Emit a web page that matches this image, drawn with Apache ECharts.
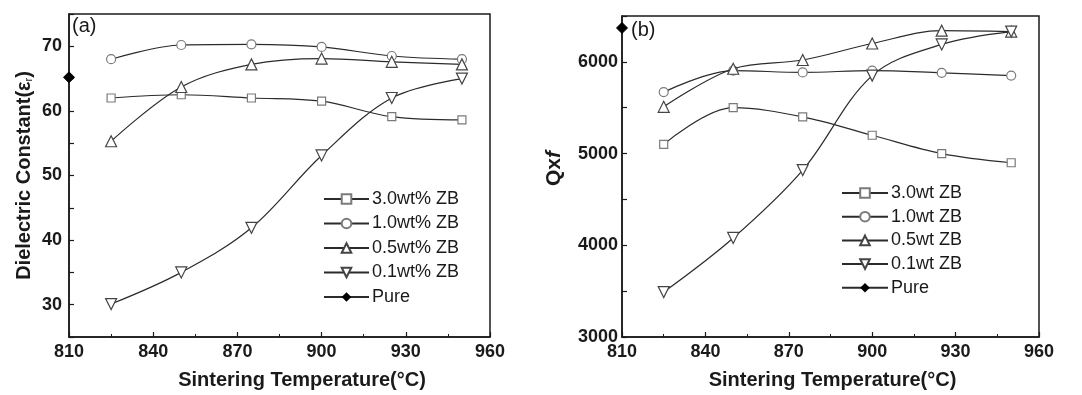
<!DOCTYPE html>
<html>
<head>
<meta charset="utf-8">
<script src="https://cdn.jsdelivr.net/npm/echarts@6/dist/echarts.min.js"></script>
<style>
  html, body { margin: 0; padding: 0; background: #fff; }
  #chart-container { width: 1082px; height: 395px; }
</style>
</head>
<body>
<div id="chart-container"></div>
<script>
var dom = document.getElementById("chart-container");
var myChart = echarts.init(dom, null, { renderer: "canvas" });

// sintering temperatures (°C)
const temps = [825, 850, 875, 900, 925, 950];

// (a) dielectric constant
const epsNames = ["3.0wt% ZB", "1.0wt% ZB", "0.5wt% ZB", "0.1wt% ZB", "Pure"];
const eps30 = [62.0, 62.5, 62.0, 61.5, 59.1, 58.6];
const eps10 = [68.0, 70.2, 70.3, 69.9, 68.5, 68.0];
const eps05 = [55.3, 63.7, 67.2, 68.1, 67.6, 67.2];
const eps01 = [30.1, 35.0, 41.9, 53.1, 62.0, 65.0];
const epsPure = [[810, 65.2]];

// (b) Qxf
const qfNames = ["3.0wt ZB", "1.0wt ZB", "0.5wt ZB", "0.1wt ZB", "Pure"];
const qf30 = [5100, 5500, 5400, 5200, 5000, 4900];
const qf10 = [5670, 5905, 5885, 5905, 5880, 5850];
const qf05 = [5510, 5925, 6020, 6200, 6340, 6330];
const qf01 = [3490, 4080, 4820, 5850, 6190, 6330];
const qfPure = [[810, 6370]];

const FONT = "Liberation Sans";
const LINE = "#2b2b2b";
const EDGE = "#7a7a7a";

const markerStyles = [
  { symbol: "rect", symbolSize: 8, symbolRotate: 0 },
  { symbol: "circle", symbolSize: 9, symbolRotate: 0 },
  { symbol: "triangle", symbolSize: 11, symbolRotate: 0 },
  { symbol: "triangle", symbolSize: 11, symbolRotate: 180 },
];

function pair(vals) {
  return vals.map(function (v, i) {
    return [temps[i], v];
  });
}

function makeSeries(names, sets, pure, gridIdx) {
  const out = sets.map(function (vals, i) {
    const m = markerStyles[i];
    return {
      name: names[i],
      type: "line",
      xAxisIndex: gridIdx,
      yAxisIndex: gridIdx,
      data: pair(vals),
      smooth: 0.35,
      symbol: m.symbol,
      symbolSize: m.symbolSize,
      symbolRotate: m.symbolRotate,
      showAllSymbol: true,
      clip: false,
      z: 3 + i,
      lineStyle: { color: LINE, width: 1.2 },
      itemStyle: {
        color: "#ffffff",
        borderColor: i >= 2 ? "#444" : EDGE,
        borderWidth: 1.2,
      },
      emphasis: { disabled: true },
    };
  });
  out.push({
    name: names[4],
    type: "line",
    xAxisIndex: gridIdx,
    yAxisIndex: gridIdx,
    data: pure,
    symbol: "diamond",
    symbolSize: 11,
    clip: false,
    z: 10,
    lineStyle: { color: LINE, width: 1.2 },
    itemStyle: { color: "#000", borderColor: "#000" },
    emphasis: { disabled: true },
  });
  return out;
}

function xAxisFor(gridIdx, shift) {
  return {
    type: "value",
    gridIndex: gridIdx,
    min: 810,
    max: 960,
    interval: 30,
    name: "Sintering Temperature(°C)",
    nameLocation: "middle",
    nameGap: 33,
    nameTextStyle: {
      fontFamily: FONT,
      fontSize: 20,
      fontWeight: "bold",
      color: "#1a1a1a",
      padding: [0, 0, 0, shift],
    },
    axisLine: { lineStyle: { color: "#1a1a1a", width: 1.5 } },
    axisTick: { inside: true, length: 5, lineStyle: { color: "#1a1a1a", width: 1.2 } },
    minorTick: { show: true, splitNumber: 2, length: 3, lineStyle: { color: "#1a1a1a" } },
    axisLabel: { fontFamily: FONT, fontSize: 18, fontWeight: "bold", color: "#1a1a1a", margin: 6 },
    splitLine: { show: false },
  };
}

function legendFor(names, left, top, gap, iconW) {
  return {
    data: names,
    orient: "vertical",
    left: left,
    top: top,
    itemWidth: iconW,
    itemHeight: 12,
    itemGap: gap,
    textStyle: {
      fontFamily: FONT,
      fontSize: 18,
      lineHeight: 18,
      color: "#1a1a1a",
      padding: [0, 0, 0, -2],
    },
  };
}

option = {
  backgroundColor: "#ffffff",
  animation: false,
  grid: [
    { left: 69, right: 592, top: 14, bottom: 57, show: true, borderColor: "#1a1a1a", borderWidth: 1.5 },
    { left: 622, right: 43, top: 16, bottom: 57, show: true, borderColor: "#1a1a1a", borderWidth: 1.5 },
  ],
  legend: [
    legendFor(epsNames, 318, 185, 6.5, 45),
    legendFor(qfNames, 836, 179, 5.7, 46),
  ],
  xAxis: [xAxisFor(0, 45), xAxisFor(1, 4)],
  yAxis: [
    {
      type: "value",
      gridIndex: 0,
      min: 25,
      max: 75,
      interval: 5,
      name: "{n|Dielectric Constant(ε}{s|r}{n|)}",
      nameLocation: "middle",
      nameGap: 35,
      nameTextStyle: {
        rich: {
          n: { fontFamily: FONT, fontSize: 20, fontWeight: "bold", color: "#1a1a1a" },
          s: { fontFamily: FONT, fontSize: 11, color: "#1a1a1a", verticalAlign: "bottom", padding: [9, 0, 0, 0] },
        },
      },
      axisLine: { lineStyle: { color: "#1a1a1a", width: 1.5 } },
      axisTick: { inside: true, length: 5, lineStyle: { color: "#1a1a1a", width: 1.2 } },
      axisLabel: {
        fontFamily: FONT,
        fontSize: 18,
        fontWeight: "bold",
        color: "#1a1a1a",
        margin: 7,
        formatter: function (v) {
          return v % 10 === 0 ? String(v) : "";
        },
      },
      splitLine: { show: false },
    },
    {
      type: "value",
      gridIndex: 1,
      min: 3000,
      max: 6500,
      interval: 500,
      name: "{n|Qx}{i|f}",
      nameLocation: "middle",
      nameGap: 57,
      nameTextStyle: {
        padding: [0, 0, 0, 16],
        rich: {
          n: { fontFamily: FONT, fontSize: 21, fontWeight: "bold", color: "#1a1a1a" },
          i: { fontFamily: FONT, fontSize: 21, fontWeight: "bold", fontStyle: "italic", color: "#1a1a1a" },
        },
      },
      axisLine: { lineStyle: { color: "#1a1a1a", width: 1.5 } },
      axisTick: { inside: true, length: 5, lineStyle: { color: "#1a1a1a", width: 1.2 } },
      axisLabel: {
        fontFamily: FONT,
        fontSize: 18,
        fontWeight: "bold",
        color: "#1a1a1a",
        margin: 4,
        formatter: function (v) {
          return v % 1000 === 0 ? String(v) : "";
        },
      },
      splitLine: { show: false },
    },
  ],
  graphic: [
    { type: "text", left: 72, top: 16, style: { text: "(a)", font: "20px Liberation Sans", fill: "#1a1a1a" } },
    { type: "text", left: 631, top: 20, style: { text: "(b)", font: "20px Liberation Sans", fill: "#1a1a1a" } },
  ],
  series: makeSeries(epsNames, [eps30, eps10, eps05, eps01], epsPure, 0).concat(
    makeSeries(qfNames, [qf30, qf10, qf05, qf01], qfPure, 1)
  ),
};

if (option && typeof option === "object") {
  myChart.setOption(option);
}

window.addEventListener("resize", myChart.resize);
</script>
</body>
</html>
